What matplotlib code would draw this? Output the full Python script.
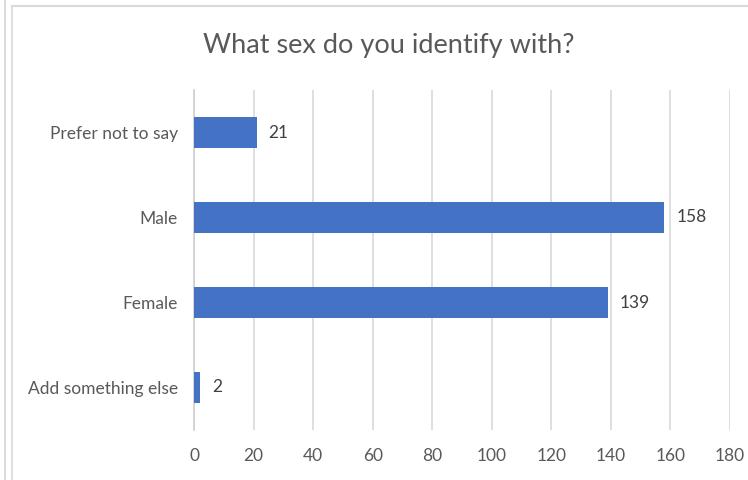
import matplotlib.pyplot as plt
from matplotlib.lines import Line2D

categories = ['Add something else', 'Female', 'Male', 'Prefer not to say']
counts = [2, 139, 158, 21]
x_ticks = [0, 20, 40, 60, 80, 100, 120, 140, 160, 180]

plt.rcParams['font.family'] = ['Lato', 'DejaVu Sans']

fig = plt.figure(figsize=(7.48, 4.8), dpi=100)
ax = fig.add_axes([194 / 748, 1 - 430 / 480, (730 - 194) / 748, (430 - 90) / 480])

ypos = list(range(len(categories)))
bars = ax.barh(ypos, counts, height=0.355, color='#4472C4', zorder=3)

for b, v in zip(bars, counts):
    ax.text(b.get_width() + 180 * 0.022, b.get_y() + b.get_height() / 2, str(v),
            va='center', ha='left', fontsize=12.5, color='#404040')

ax.set_xlim(0, 180)
ax.set_ylim(-0.5, 3.5)
ax.set_xticks(x_ticks)
ax.set_yticks(ypos)
ax.set_yticklabels(categories)
ax.xaxis.grid(True, color='#d9d9d9', linewidth=1.2, zorder=0)
ax.tick_params(axis='both', length=0, labelsize=12.5, labelcolor='#595959')
ax.tick_params(axis='x', pad=13)
ax.tick_params(axis='y', pad=11.5)
for s in ['top', 'right', 'bottom']:
    ax.spines[s].set_visible(False)
ax.spines['left'].set_color('#d0d0d0')
ax.spines['left'].set_linewidth(1.2)

fig.text(389 / 748, 1 - 45 / 480, 'What sex do you identify with?', ha='center', va='center',
         fontsize=19.5, color='#595959')

# frame lines around the chart
fig.add_artist(Line2D([5 / 748, 5 / 748], [0, 1], color='#d4d4d4', linewidth=1.2))
fig.add_artist(Line2D([12 / 748, 12 / 748], [0, 1 - 6 / 480], color='#d9d9d9', linewidth=1.2))
fig.add_artist(Line2D([12 / 748, 1], [1 - 6 / 480, 1 - 6 / 480], color='#d9d9d9', linewidth=1.5))

fig.savefig('out.png', dpi=100)
